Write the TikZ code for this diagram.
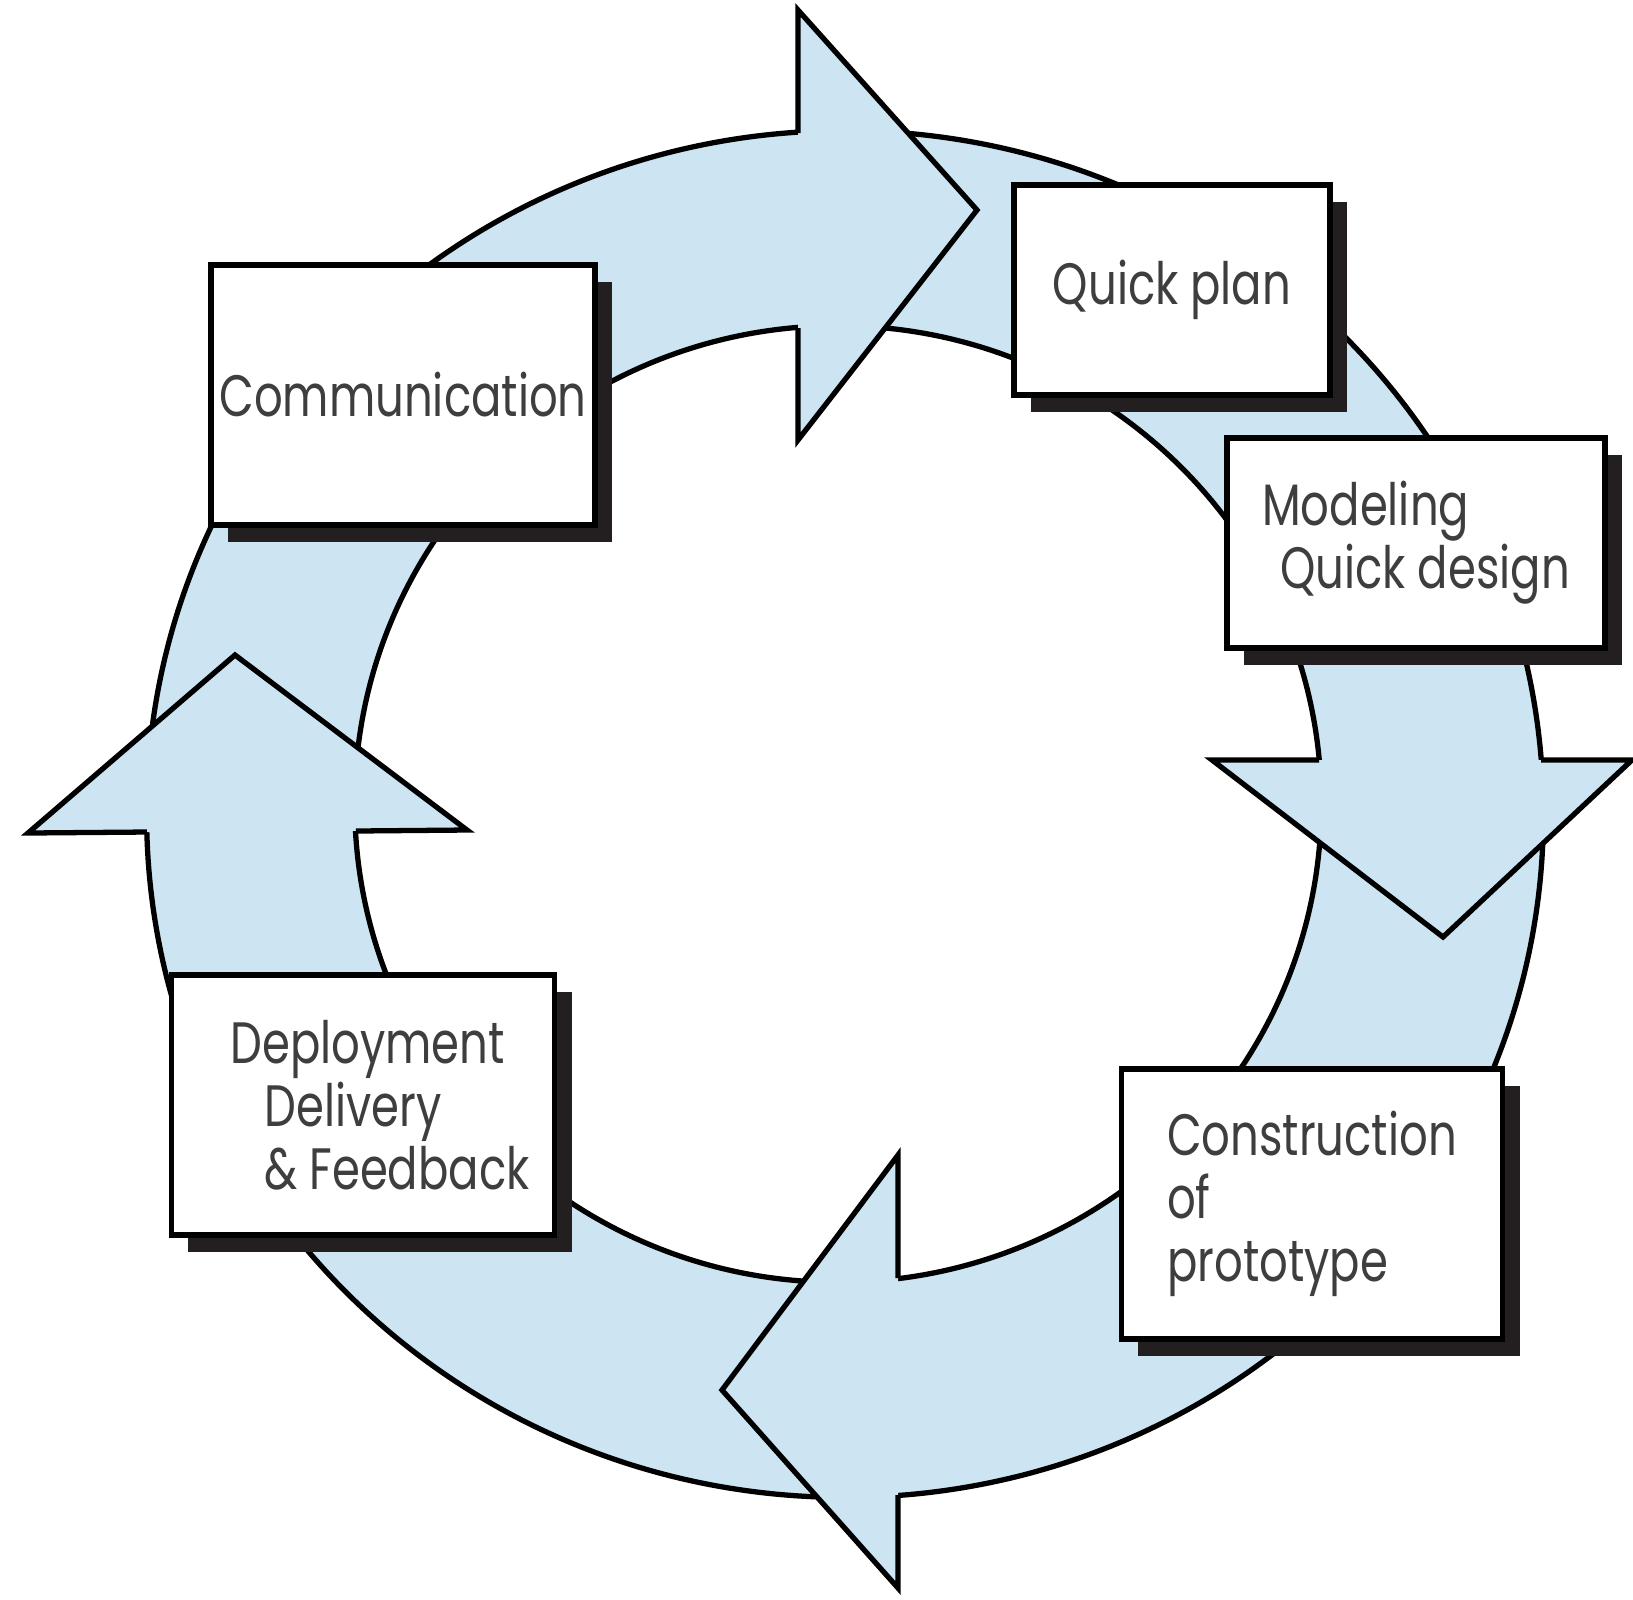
\documentclass[tikz,border=0pt]{standalone}
\usepackage{fontspec}
\newfontfamily\phasefont{Poppins}[FakeStretch=0.77]
\usetikzlibrary{shadows}
\definecolor{ringblue}{RGB}{205,228,242}
\definecolor{inkgray}{RGB}{62,62,62}
\definecolor{shadowblack}{RGB}{35,31,32}

\begin{document}
\begin{tikzpicture}
[ x=0.01cm, y=-0.01cm
, outline/.style={line width=1.5pt, draw=black}
, ring/.style={fill=ringblue, even odd rule}
, head/.style={fill=ringblue}
, phase/.style={draw, line width=1.6pt, fill=white, inner sep=0pt, align=left,
    font=\phasefont\fontsize{16.6}{17.9}\selectfont, text=inkgray,
    drop shadow={shadow xshift=0.17cm, shadow yshift=-0.17cm,
                 fill=shadowblack, opacity=1}}
]
\useasboundingbox (0,0) rectangle (1633,1599);

% the ring
\path[ring] (845,814) ellipse [x radius=6.98cm, y radius=6.83cm]
            (838,804) ellipse [x radius=4.83cm, y radius=4.78cm];
\draw[outline] (845,814) ellipse [x radius=6.98cm, y radius=6.83cm];
\draw[outline] (838,804) ellipse [x radius=4.83cm, y radius=4.78cm];

% arrow heads
\fill[head] (798,10) -- (977,210) -- (798,440) -- cycle;
\draw[outline] (798,133) -- (798,10) -- (977,210) -- (798,440) -- (798,328);

\fill[head] (1212,760) -- (1443,937) -- (1632,760) -- cycle;
\draw[outline] (1319,760) -- (1212,760) -- (1443,937) -- (1632,760) -- (1541,760);

\fill[head] (898,1155) -- (722,1390) -- (898,1588) -- cycle;
\draw[outline] (898,1278) -- (898,1155) -- (722,1390) -- (898,1588) -- (898,1495);

\fill[head] (28,833) -- (235,655) -- (467,830) -- cycle;
\draw[outline] (147,832) -- (28,833) -- (235,655) -- (467,830) -- (356,831);

% the phases
\node[phase, minimum width=3.84cm, minimum height=2.60cm] (comm) at (403,395)
  {Communication};
\node[phase, minimum width=3.16cm, minimum height=2.10cm] (plan) at (1172,290)
  {Quick plan};
\node[phase, minimum width=3.78cm, minimum height=2.10cm] (model) at (1416,543)
  {Modeling\\\hspace*{0.18cm}Quick design};
\node[phase, minimum width=3.81cm, minimum height=2.70cm] (build) at (1312,1204)
  {Construction\\of\\prototype};
\node[phase, minimum width=3.83cm, minimum height=2.60cm] (deploy) at (363,1105)
  {\hspace*{0.34cm}Deployment\\\hspace*{0.68cm}Delivery\\\hspace*{0.68cm}\& Feedback};

\end{tikzpicture}
\end{document}
